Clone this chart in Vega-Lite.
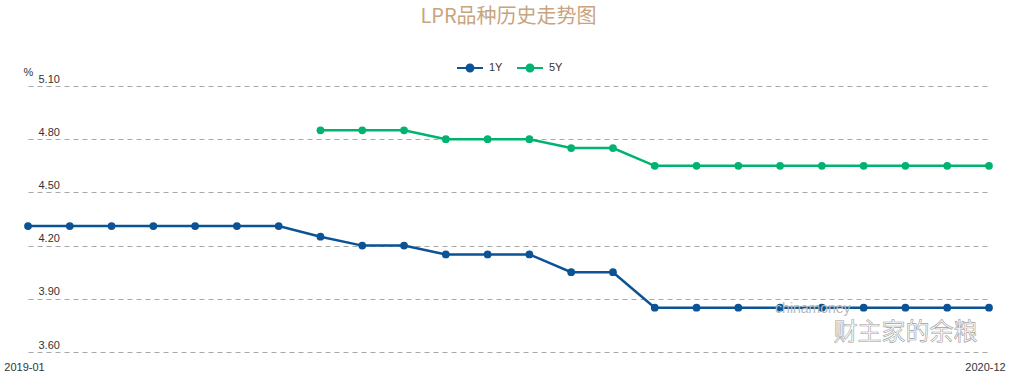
{
  "$schema": "https://vega.github.io/schema/vega-lite/v6.json",
  "width": 961,
  "height": 266,
  "autosize": {"type": "none"},
  "padding": {"left": 28, "top": 86, "right": 25, "bottom": 24},
  "background": "#ffffff",
  "title": {
    "text": "LPR品种历史走势图",
    "fontSize": 20,
    "font": "Noto Sans CJK SC",
    "fontWeight": "normal",
    "color": "#c8a47e",
    "anchor": "middle",
    "offset": 28
  },
  "config": {
    "view": {"stroke": null},
    "font": "Liberation Sans"
  },
  "datasets": {
    "lpr": [
      {"month": "2019-01", "series": "1Y", "value": 4.31},
      {"month": "2019-02", "series": "1Y", "value": 4.31},
      {"month": "2019-03", "series": "1Y", "value": 4.31},
      {"month": "2019-04", "series": "1Y", "value": 4.31},
      {"month": "2019-05", "series": "1Y", "value": 4.31},
      {"month": "2019-06", "series": "1Y", "value": 4.31},
      {"month": "2019-07", "series": "1Y", "value": 4.31},
      {"month": "2019-08", "series": "1Y", "value": 4.25},
      {"month": "2019-09", "series": "1Y", "value": 4.20},
      {"month": "2019-10", "series": "1Y", "value": 4.20},
      {"month": "2019-11", "series": "1Y", "value": 4.15},
      {"month": "2019-12", "series": "1Y", "value": 4.15},
      {"month": "2020-01", "series": "1Y", "value": 4.15},
      {"month": "2020-02", "series": "1Y", "value": 4.05},
      {"month": "2020-03", "series": "1Y", "value": 4.05},
      {"month": "2020-04", "series": "1Y", "value": 3.85},
      {"month": "2020-05", "series": "1Y", "value": 3.85},
      {"month": "2020-06", "series": "1Y", "value": 3.85},
      {"month": "2020-07", "series": "1Y", "value": 3.85},
      {"month": "2020-08", "series": "1Y", "value": 3.85},
      {"month": "2020-09", "series": "1Y", "value": 3.85},
      {"month": "2020-10", "series": "1Y", "value": 3.85},
      {"month": "2020-11", "series": "1Y", "value": 3.85},
      {"month": "2020-12", "series": "1Y", "value": 3.85},
      {"month": "2019-08", "series": "5Y", "value": 4.85},
      {"month": "2019-09", "series": "5Y", "value": 4.85},
      {"month": "2019-10", "series": "5Y", "value": 4.85},
      {"month": "2019-11", "series": "5Y", "value": 4.80},
      {"month": "2019-12", "series": "5Y", "value": 4.80},
      {"month": "2020-01", "series": "5Y", "value": 4.80},
      {"month": "2020-02", "series": "5Y", "value": 4.75},
      {"month": "2020-03", "series": "5Y", "value": 4.75},
      {"month": "2020-04", "series": "5Y", "value": 4.65},
      {"month": "2020-05", "series": "5Y", "value": 4.65},
      {"month": "2020-06", "series": "5Y", "value": 4.65},
      {"month": "2020-07", "series": "5Y", "value": 4.65},
      {"month": "2020-08", "series": "5Y", "value": 4.65},
      {"month": "2020-09", "series": "5Y", "value": 4.65},
      {"month": "2020-10", "series": "5Y", "value": 4.65},
      {"month": "2020-11", "series": "5Y", "value": 4.65},
      {"month": "2020-12", "series": "5Y", "value": 4.65}
    ],
    "marks": [
      {"month": "2020-08", "value": 3.84, "label": "chinamoney", "kind": "a"},
      {"month": "2020-10", "value": 3.705, "label": "财主家的余粮", "kind": "b"}
    ]
  },
  "encoding": {
    "x": {
      "field": "month",
      "type": "ordinal",
      "scale": {"type": "point", "padding": 0},
      "axis": {
        "title": null,
        "values": ["2019-01", "2020-12"],
        "labelAngle": 0,
        "domain": false,
        "ticks": false,
        "tickSize": 0,
        "grid": false,
        "labelPadding": 9,
        "labelBaseline": "top",
        "labelOffset": -4,
        "labelFontSize": 11,
        "labelColor": "#333333",
        "labelFont": "Liberation Sans"
      }
    },
    "y": {
      "field": "value",
      "type": "quantitative",
      "scale": {"domain": [3.6, 5.1], "nice": false, "zero": false},
      "axis": {
        "title": "%",
        "titleAngle": 0,
        "titleX": 0,
        "titleY": -11,
        "titleAlign": "center",
        "titleBaseline": "alphabetic",
        "titleFontSize": 11,
        "titleFontWeight": "normal",
        "titleColor": "#333333",
        "titleFont": "Liberation Sans",
        "values": [3.6, 3.9, 4.2, 4.5, 4.8, 5.1],
        "format": ".2f",
        "domain": false,
        "ticks": false,
        "tickSize": 0,
        "labelAlign": "left",
        "labelBaseline": "alphabetic",
        "labelPadding": -10,
        "labelOffset": -4,
        "labelFontSize": 11,
        "labelColor": "#333333",
        "labelFont": "Liberation Sans",
        "grid": true,
        "gridDash": [5, 4],
        "gridColor": "#a8a8a8",
        "gridWidth": 1
      }
    }
  },
  "layer": [
    {
      "data": {"name": "lpr"},
      "mark": {"type": "line", "strokeWidth": 2.5},
      "encoding": {
        "color": {
          "field": "series",
          "type": "nominal",
          "scale": {"domain": ["1Y", "5Y"], "range": ["#0b5394", "#00b371"]}
        }
      }
    },
    {
      "data": {"name": "lpr"},
      "mark": {"type": "point", "filled": true, "size": 60, "opacity": 1},
      "encoding": {
        "color": {
          "field": "series",
          "type": "nominal",
          "scale": {"domain": ["1Y", "5Y"], "range": ["#0b5394", "#00b371"]},
          "legend": {
            "title": null,
            "orient": "none",
            "legendX": 429,
            "legendY": -31,
            "direction": "horizontal",
            "padding": 0,
            "symbolType": "M-1,-0.077H1V0.077H-1Z M0.346,0A0.346,0.346,0,1,1,-0.346,0A0.346,0.346,0,1,1,0.346,0Z",
            "symbolSize": 676,
            "symbolStrokeWidth": 0,
            "symbolOpacity": 1,
            "labelOffset": 6,
            "columnPadding": 14,
            "labelFontSize": 11,
            "labelColor": "#333333",
            "labelFont": "Liberation Sans"
          }
        }
      }
    },
    {
      "data": {"name": "marks"},
      "transform": [{"filter": "datum.kind == 'a'"}],
      "mark": {"type": "text", "fontSize": 14, "color": "#b8b8b8", "align": "center", "baseline": "middle", "font": "Liberation Sans", "dx": -9},
      "encoding": {"text": {"field": "label"}}
    },
    {
      "data": {"name": "marks"},
      "transform": [{"filter": "datum.kind == 'b'"}],
      "mark": {"type": "text", "fontSize": 24, "fill": "#ffffff", "stroke": "#a0a0a0", "strokeWidth": 0.6, "align": "center", "baseline": "middle", "font": "Noto Sans CJK SC", "fontWeight": "normal"},
      "encoding": {"text": {"field": "label"}}
    }
  ]
}
